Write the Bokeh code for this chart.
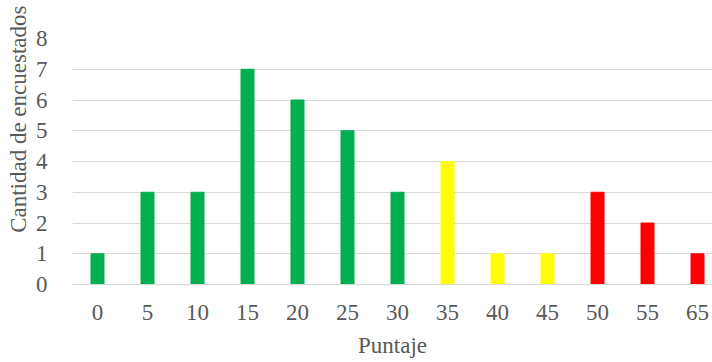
from bokeh.plotting import figure
from bokeh.models import ColumnDataSource, Range1d, FixedTicker, Title
from bokeh.embed import file_html
from bokeh.resources import INLINE

# Data
puntajes = ["0", "5", "10", "15", "20", "25", "30", "35", "40", "45", "50", "55", "65"]
cantidades = [1, 3, 3, 7, 6, 5, 3, 4, 1, 1, 3, 2, 1]
nivel = ["verde"] * 7 + ["amarillo"] * 3 + ["rojo"] * 3
y_ticks = [0, 1, 2, 3, 4, 5, 6, 7, 8]

palette = {"verde": "#00B050", "amarillo": "#FFFF00", "rojo": "#FF0000"}

FONT = "Liberation Serif"
TXT = "#595959"

idx = list(range(len(puntajes)))
src = ColumnDataSource(dict(
    x=idx, top=cantidades, color=[palette[n] for n in nivel]
))

p = figure(width=712, height=362, output_backend="svg", toolbar_location=None,
           x_range=Range1d(-0.5, 12.3), y_range=Range1d(0, 8),
           min_border_left=72, min_border_right=0, min_border_top=38,
           min_border_bottom=78)
p.outline_line_color = None
p.background_fill_color = "white"
p.border_fill_color = "white"

p.vbar(x="x", top="top", width=0.26, color="color", source=src)

# x axis
p.xaxis.ticker = FixedTicker(ticks=idx)
p.xaxis.major_label_overrides = {i: s for i, s in zip(idx, puntajes)}
p.xaxis.major_tick_line_color = None
p.xaxis.minor_tick_line_color = None
p.xaxis.axis_line_color = "#D9D9D9"
p.xaxis.axis_line_width = 1
p.xaxis.major_label_text_font = FONT
p.xaxis.major_label_text_font_size = "23px"
p.xaxis.major_label_text_color = TXT
p.xaxis.major_label_standoff = 14
p.xaxis.axis_label = "Puntaje"
p.xaxis.axis_label_text_font = FONT
p.xaxis.axis_label_text_font_size = "23px"
p.xaxis.axis_label_text_font_style = "normal"
p.xaxis.axis_label_text_color = TXT
p.xaxis.axis_label_standoff = 10

# y axis
p.yaxis.ticker = FixedTicker(ticks=y_ticks)
p.yaxis.major_tick_line_color = None
p.yaxis.minor_tick_line_color = None
p.yaxis.axis_line_color = None
p.yaxis.major_label_text_font = FONT
p.yaxis.major_label_text_font_size = "23px"
p.yaxis.major_label_text_color = TXT
p.yaxis.major_label_standoff = 19

p.xgrid.grid_line_color = None
p.ygrid.grid_line_color = "#D9D9D9"
p.ygrid.grid_line_width = 1

# y axis title (top end placed near the top edge, as in the reference)
p.add_layout(Title(text="Cantidad de encuestados", align="right", offset=-33,
                   standoff=4, text_font=FONT, text_font_size="23px",
                   text_font_style="normal", text_color=TXT), "left")

open("out.html", "w").write(file_html(p, INLINE))
